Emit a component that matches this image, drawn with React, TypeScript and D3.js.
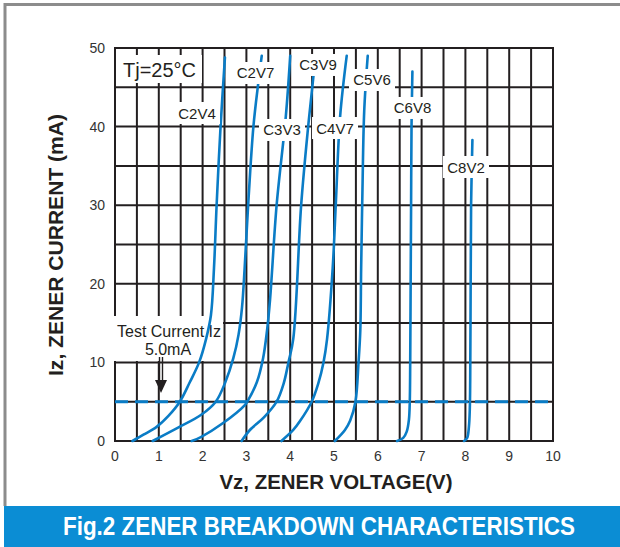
import React from 'react';
import * as d3 from 'd3';

// ---- data ----
const X_TICKS = [0, 1, 2, 3, 4, 5, 6, 7, 8, 9, 10];
const Y_TICKS = [0, 10, 20, 30, 40, 50];
const TEST_CURRENT = 5.0;

const SERIES_NAMES = ['C2V4', 'C2V7', 'C3V3', 'C3V9', 'C4V7', 'C5V6', 'C6V8', 'C8V2'];

const C2V4_V = [0.40, 0.65, 0.95, 1.22, 1.48, 1.71, 1.92, 2.08, 2.19, 2.26, 2.32, 2.41, 2.51];
const C2V4_I = [0, 0.8, 1.8, 3.2, 5, 7.5, 10, 13, 16, 22, 30, 40, 48.8];

const C2V7_V = [0.86, 1.44, 1.96, 2.30, 2.52, 2.70, 2.82, 2.90, 2.96, 3.04, 3.16, 3.27, 3.35];
const C2V7_I = [0, 1.7, 3.3, 5, 7.5, 10.5, 13.5, 17, 22, 30, 40, 45.5, 49];

const C3V3_V = [1.75, 1.96, 2.46, 2.97, 3.02, 3.24, 3.38, 3.47, 3.54, 3.69, 3.90, 4.00];
const C3V3_I = [0, 0.5, 2.25, 4.6, 5, 7.5, 10.5, 14, 18, 30, 41.3, 49];

const C3V9_V = [2.89, 3.08, 3.40, 3.69, 3.85, 3.96, 4.07, 4.25, 4.41, 4.53, 4.57];
const C3V9_I = [0, 1.4, 3, 5, 7.3, 10, 13, 30, 40, 46.4, 48.5];

const C4V7_V = [3.80, 4.07, 4.22, 4.49, 4.64, 4.76, 4.84, 4.97, 5.04, 5.14, 5.29];
const C4V7_I = [0, 1.4, 2.5, 5, 7.3, 10, 12.9, 22, 30, 41.3, 49];

const C5V6_V = [5.02, 5.25, 5.37, 5.49, 5.56, 5.60, 5.62, 5.65, 5.69, 5.77];
const C5V6_I = [0, 1.4, 2.6, 5, 10, 14, 22, 32, 42, 49];

const C6V8_V = [6.44, 6.58, 6.66, 6.71, 6.73, 6.74, 6.75, 6.76, 6.77, 6.79];
const C6V8_I = [0, 0.4, 1.2, 2.7, 5, 10, 20, 30, 40, 47];

const C8V2_V = [7.97, 8.04, 8.08, 8.10, 8.11, 8.12, 8.13, 8.16];
const C8V2_I = [0, 0.4, 1.8, 4, 8, 20, 30, 38.3];

const SERIES_V = [C2V4_V, C2V7_V, C3V3_V, C3V9_V, C4V7_V, C5V6_V, C6V8_V, C8V2_V];
const SERIES_I = [C2V4_I, C2V7_I, C3V3_I, C3V9_I, C4V7_I, C5V6_I, C6V8_I, C8V2_I];

// label anchor (data coordinates) for each series name
const LABEL_V = [1.872, 3.208, 3.813, 4.635, 5.023, 5.868, 6.792, 8.014];
const LABEL_I = [41.73, 46.82, 39.57, 47.84, 39.82, 45.93, 42.37, 34.86];

// ---- layout ----
const W = 620;
const H = 547;
const PL = 115, PR = 553, PT = 48, PB = 441;
const FONT = 'Liberation Sans, Arial, Helvetica, sans-serif';
const BLUE = '#0a7cc6';
const BAR = '#0b8dd4';
const INK = '#231f20';

export default function App() {
  const x = d3.scaleLinear().domain([0, 10]).range([PL, PR]);
  const y = d3.scaleLinear().domain([0, 50]).range([PB, PT]);

  const line = d3
    .line<[number, number]>()
    .x((d) => x(d[0]))
    .y((d) => y(d[1]))
    .curve(d3.curveCatmullRom.alpha(0.5));

  const vGrid = d3.range(0, 10.0001, 0.5);
  const hGrid = d3.range(0, 50.0001, 5);

  return (
    <svg
      width={W}
      height={H}
      viewBox={`0 0 ${W} ${H}`}
      style={{ position: 'absolute', left: 0, top: 0, background: '#fff' }}
      fontFamily={FONT}
    >
      <rect x={0} y={0} width={W} height={H} fill="#fff" />
      {/* frame */}
      <line x1={5} y1={4.5} x2={W} y2={4.5} stroke="#8c8c8c" strokeWidth={3} />
      <line x1={5} y1={3} x2={5} y2={506} stroke="#8c8c8c" strokeWidth={3} />
      {/* title bar */}
      <rect x={4} y={506} width={W - 4} height={H - 506} fill={BAR} />
      <text
        x={319}
        y={535}
        textAnchor="middle"
        fill="#fff"
        fontWeight="bold"
        fontSize={25}
        textLength={512}
        lengthAdjust="spacingAndGlyphs"
      >
        Fig.2 ZENER BREAKDOWN CHARACTERISTICS
      </text>

      {/* grid */}
      <g stroke={INK} strokeWidth={2}>
        {vGrid.map((v) => (
          <line key={'v' + v} x1={x(v)} x2={x(v)} y1={PT} y2={PB} />
        ))}
        {hGrid.map((i) => (
          <line key={'h' + i} x1={PL - 1} x2={PR + 1} y1={y(i)} y2={y(i)} />
        ))}
      </g>

      {/* Tj label */}
      <rect x={120} y={55} width={82} height={28} fill="#fff" />
      <text x={123} y={77} fontSize={20} fill={INK}>
        Tj=25°C
      </text>

      {/* test current annotation box */}
      <rect x={114} y={316} width={109} height={45} fill="#fff" />
      <text x={169} y={337} fontSize={16} fill={INK} textAnchor="middle">
        Test Current Iz
      </text>
      <text x={168} y={355} fontSize={16} fill={INK} textAnchor="middle">
        5.0mA
      </text>

      {/* dashed test current line */}
      <line
        x1={PL}
        x2={PR}
        y1={y(TEST_CURRENT)}
        y2={y(TEST_CURRENT)}
        stroke={BLUE}
        strokeWidth={3}
        strokeDasharray="13 7"
      />

      {/* curves */}
      <g fill="none" stroke={BLUE} strokeWidth={2.6} strokeLinecap="round">
        {SERIES_NAMES.map((name, k) => {
          const pts: [number, number][] = SERIES_V[k].map((v, j) => [v, SERIES_I[k][j]]);
          return <path key={name} d={line(pts) || ''} />;
        })}
      </g>

      {/* curve labels */}
      {SERIES_NAMES.map((name, k) => {
        const cx = x(LABEL_V[k]);
        const cy = y(LABEL_I[k]);
        return (
          <g key={'lab' + name}>
            <rect x={cx - 23} y={cy - 11} width={46} height={22} fill="#fff" />
            <text x={cx} y={cy + 5.5} fontSize={15} fill={INK} textAnchor="middle">
              {name}
            </text>
          </g>
        );
      })}

      {/* arrow */}
      <g stroke={INK} strokeWidth={1.4}>
        <line x1={159.5} x2={159.5} y1={357} y2={381} />
        <line x1={162.5} x2={162.5} y1={357} y2={381} />
      </g>
      <path d="M155,380 L167,380 L161,393 Z" fill={INK} />

      {/* axis tick labels */}
      {X_TICKS.map((t) => (
        <text key={'xt' + t} x={x(t)} y={461} fontSize={14} fill="#333" textAnchor="middle">
          {t}
        </text>
      ))}
      {Y_TICKS.map((t) => (
        <text key={'yt' + t} x={105} y={y(t) + 5} fontSize={14} fill="#333" textAnchor="end">
          {t}
        </text>
      ))}

      {/* axis titles */}
      <text
        x={336}
        y={489}
        fontSize={21}
        fontWeight="bold"
        fill={INK}
        textAnchor="middle"
        textLength={233}
        lengthAdjust="spacingAndGlyphs"
      >
        Vz, ZENER VOLTAGE(V)
      </text>
      <text
        transform="translate(63,245) rotate(-90)"
        fontSize={21}
        fontWeight="bold"
        fill={INK}
        textAnchor="middle"
        textLength={262}
        lengthAdjust="spacingAndGlyphs"
      >
        Iz, ZENER CURRENT (mA)
      </text>
    </svg>
  );
}
